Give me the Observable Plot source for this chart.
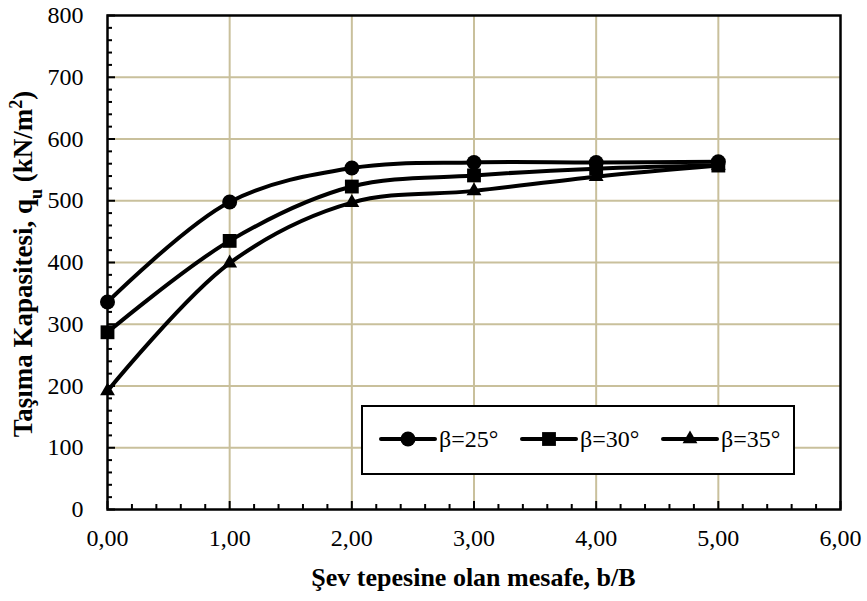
<!DOCTYPE html>
<html>
<head>
<meta charset="utf-8">
<script src="https://cdn.jsdelivr.net/npm/d3@7"></script>
<script src="https://cdn.jsdelivr.net/npm/@observablehq/plot@0.6"></script>
<style>
  html, body { margin: 0; padding: 0; background: #fff; }
  #wrap { position: relative; width: 867px; height: 601px; font-family: 'Liberation Serif', 'DejaVu Serif', serif; }
  #wrap svg text { font-family: 'Liberation Serif', 'DejaVu Serif', serif; }
  #legend { position: absolute; left: 361px; top: 405px; width: 430px; height: 66px; border: 2px solid #000; background: #fff;
            font-size: 24px; color: #000; font-family: 'Liberation Serif', 'DejaVu Serif', serif; }
  .item { display: flex; align-items: center; position: absolute; top: 16px; }
</style>
</head>
<body>
<div id="wrap"></div>
<script>
// ---- data ----
const bB = [0, 1, 2, 3, 4, 5];
const beta25 = [336, 498, 553, 562, 562, 563];
const beta30 = [287, 435, 523, 541, 552, 557];
const beta35 = [192, 399, 497, 516, 539, 557];
const seriesNames = ["β=25°", "β=30°", "β=35°"];
const xTicks = [0, 1, 2, 3, 4, 5, 6];
const yTicks = [0, 100, 200, 300, 400, 500, 600, 700, 800];
const xTitle = "Şev tepesine olan mesafe, b/B";

const seriesValues = [beta25, beta30, beta35];
const symbols = ["circle", "square", "triangle"];
const symbolR = [7.5, 7.8, 5.5];
const rows = [];
seriesNames.forEach((s, i) => bB.forEach((x, j) => rows.push({series: s, x, y: seriesValues[i][j]})));

const xMinor = d3.range(0, 6.0001, 0.2).map(d => +d.toFixed(1)).filter(d => !xTicks.includes(d));
const yMinor = d3.range(0, 801, 20).filter(d => !yTicks.includes(d));

const W = 867, H = 601, mL = 107, mR = 27, mT = 15, mB = 92;
const pw = W - mL - mR, ph = H - mT - mB;
const grid = "#c9c09c";
const FONT = "'Liberation Serif', 'DejaVu Serif', serif";

const marks = [
  Plot.gridX(xTicks.slice(1, -1), {stroke: grid, strokeOpacity: 1, strokeWidth: 2}),
  Plot.gridY(yTicks.slice(1, -1), {stroke: grid, strokeOpacity: 1, strokeWidth: 2}),
  Plot.tickX(xTicks, {x: d => d, stroke: "#000", strokeWidth: 2, insetTop: ph - 8}),
  Plot.tickX(xMinor, {x: d => d, stroke: "#000", strokeWidth: 2, insetTop: ph - 5}),
  Plot.tickY(yTicks, {y: d => d, stroke: "#000", strokeWidth: 2, insetRight: pw - 8}),
  Plot.tickY(yMinor, {y: d => d, stroke: "#000", strokeWidth: 2, insetRight: pw - 5}),
  Plot.frame({stroke: "#000", strokeWidth: 2.5}),
  Plot.axisX(xTicks, {tickSize: 0, tickPadding: 19, fontSize: 24, fontFamily: FONT, tickFormat: d => d.toFixed(2).replace(".", ","), label: null}),
  Plot.axisY(yTicks, {tickSize: 0, tickPadding: 24, fontSize: 24, fontFamily: FONT, label: null}),
];
seriesNames.forEach((s, i) => {
  const data = rows.filter(r => r.series === s);
  marks.push(Plot.line(data, {x: "x", y: "y", stroke: "#000", strokeWidth: 4, curve: "catmull-rom"}));
});
seriesNames.forEach((s, i) => {
  const data = rows.filter(r => r.series === s);
  marks.push(Plot.dot(data, {x: "x", y: "y", symbol: () => symbols[i], r: symbolR[i], fill: "#000", stroke: "none"}));
});

const chart = Plot.plot({
  width: W, height: H,
  marginLeft: mL, marginRight: mR, marginTop: mT, marginBottom: mB,
  style: {fontFamily: FONT, background: "#fff", color: "#000"},
  x: {domain: [0, 6]},
  y: {domain: [0, 800]},
  symbol: {type: "identity"},
  marks
});
document.getElementById("wrap").appendChild(chart);

const svg = d3.select(chart);
// x-axis title
svg.append("text")
  .attr("x", mL + pw / 2).attr("y", 586)
  .attr("text-anchor", "middle")
  .attr("font-weight", "bold").attr("font-size", 26).attr("fill", "#000")
  .style("font-family", FONT)
  .text(xTitle);
// y-axis title with subscript / superscript
const yt = svg.append("text")
  .attr("transform", `translate(32, 264) rotate(-90)`)
  .attr("text-anchor", "middle")
  .attr("font-weight", "bold").attr("font-size", 27).attr("fill", "#000")
  .style("font-family", FONT);
yt.append("tspan").text("Taşıma Kapasitesi, q");
yt.append("tspan").attr("baseline-shift", "sub").attr("font-size", 18).text("u");
yt.append("tspan").text(" (kN/m");
yt.append("tspan").attr("baseline-shift", "super").attr("font-size", 18).text("2");
yt.append("tspan").text(")");

// legend
const legend = d3.select("#wrap").append("div").attr("id", "legend");
const itemLeft = [16, 157, 298];
seriesNames.forEach((s, i) => {
  const it = legend.append("div").attr("class", "item").style("left", itemLeft[i] + "px");
  const sv = it.append("svg").attr("width", 58).attr("height", 32);
  sv.append("line").attr("x1", 2).attr("x2", 56).attr("y1", 16).attr("y2", 16)
    .attr("stroke", "#000").attr("stroke-width", 4).attr("stroke-linecap", "round");
  sv.append("path").attr("transform", "translate(29,16)")
    .attr("d", d3.symbol(d3["symbol" + symbols[i][0].toUpperCase() + symbols[i].slice(1)], Math.PI * symbolR[i] * symbolR[i])())
    .attr("fill", "#000");
  it.append("span").style("margin-left", "2px").text(s);
});
</script>
</body>
</html>
